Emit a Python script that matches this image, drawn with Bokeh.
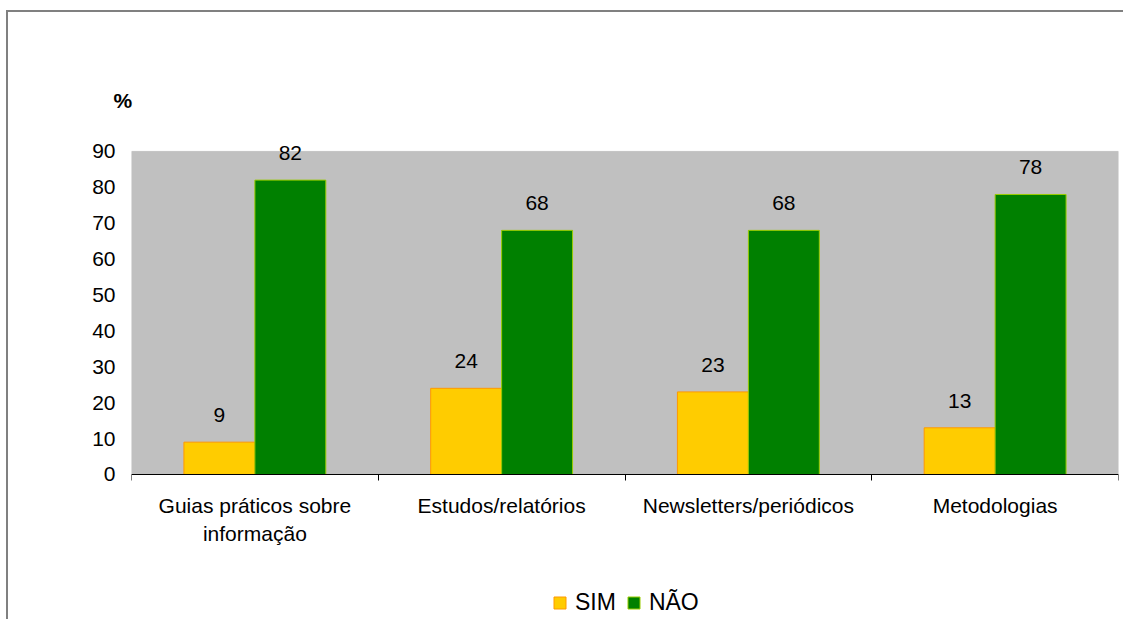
from bokeh.plotting import figure
from bokeh.models import (ColumnDataSource, FixedTicker, LabelSet, Legend, LegendItem,
                          BoxAnnotation)
from bokeh.core.properties import value
from bokeh.transform import dodge
from bokeh.embed import file_html
from bokeh.resources import INLINE

categories = ["Guias práticos sobre\ninformação", "Estudos/relatórios",
              "Newsletters/periódicos", "Metodologias"]
sim = [9, 24, 23, 13]
nao = [82, 68, 68, 78]
series = ["SIM", "NÃO"]
y_ticks = [0, 10, 20, 30, 40, 50, 60, 70, 80, 90]
unit_label = "%"

FONT = "Liberation Sans"
xs = [i + 0.5 for i in range(len(categories))]
src = ColumnDataSource(dict(
    x=xs, sim=sim, nao=nao,
    sim_lbl=[str(v) for v in sim], nao_lbl=[str(v) for v in nao],
))

# frame spans the whole lower part of the page so that the category labels and
# the legend (drawn inside the frame) are not clipped; y=0 sits at the axis line
p = figure(width=1123, height=619, output_backend="svg", toolbar_location=None,
           x_range=(0, len(categories)), y_range=(-40.4, 100),
           min_border_left=131, min_border_right=5, min_border_top=115, min_border_bottom=0,
           title=unit_label)
# outer chart border (top and left edges only are inside the window)
p.styles = {
    "background-image": "linear-gradient(#808080, #808080), linear-gradient(#808080, #808080)",
    "background-size": "2px 100%, 100% 2px",
    "background-position": "6px 10px, 6px 10px",
    "background-repeat": "no-repeat, no-repeat",
}
p.border_fill_color = None
p.background_fill_color = None
p.outline_line_color = None
p.grid.visible = False

p.title.text_font = FONT
p.title.text_font_size = "21px"
p.title.text_font_style = "bold"
p.title.text_color = "#000000"
p.title.align = "left"
p.title.offset = -18
p.title.standoff = 8

# gray plot area (0..max tick)
p.add_layout(BoxAnnotation(left=0, right=len(categories), bottom=0, top=y_ticks[-1],
                           fill_color="#C0C0C0", fill_alpha=1, line_color="#808080",
                           line_width=1, level="underlay"))

bw = 0.2875
r1 = p.vbar(x=dodge("x", -bw / 2, range=p.x_range), top="sim", width=bw, source=src,
            fill_color="#FFCC00", line_color="#FF9900", line_width=1)
r2 = p.vbar(x=dodge("x", bw / 2, range=p.x_range), top="nao", width=bw, source=src,
            fill_color="#008000", line_color="#99CC00", line_width=1)

for col, off in (("sim", -bw / 2), ("nao", bw / 2)):
    p.add_layout(LabelSet(x=dodge("x", off, range=p.x_range), y=col, text=col + "_lbl",
                          source=src, y_offset=27, text_align="center", text_baseline="middle",
                          text_font=value(FONT), text_font_size="21px", text_color="#000000"))

# x axis, fixed at y = 0
xa = p.xaxis[0]
xa.fixed_location = 0
xa.ticker = FixedTicker(ticks=xs, minor_ticks=list(range(len(categories) + 1)))
xa.major_label_overrides = {x: c for x, c in zip(xs, categories)}
xa.major_tick_line_color = None
xa.major_tick_out = 0
xa.major_tick_in = 0
xa.minor_tick_out = 6
xa.minor_tick_in = 0
xa.minor_tick_line_color = "#000000"
xa.axis_line_color = "#000000"
xa.major_label_text_font = FONT
xa.major_label_text_font_size = "21px"
xa.major_label_text_color = "#000000"
xa.major_label_standoff = 14

ya = p.yaxis[0]
ya.ticker = FixedTicker(ticks=y_ticks)
ya.axis_line_color = None
ya.major_tick_line_color = None
ya.major_tick_out = 0
ya.major_tick_in = 0
ya.minor_tick_line_color = None
ya.major_label_text_font = FONT
ya.major_label_text_font_size = "21px"
ya.major_label_text_color = "#000000"
ya.major_label_standoff = 16

legend = Legend(items=[LegendItem(label=series[0], renderers=[r1]),
                       LegendItem(label=series[1], renderers=[r2])],
                orientation="horizontal", location=(421, 3),
                glyph_width=15, glyph_height=15, label_text_font=FONT,
                label_text_font_size="23px", label_text_color="#000000",
                padding=0, margin=0, spacing=10,
                label_standoff=8, border_line_color=None, background_fill_alpha=0)
p.add_layout(legend, "center")

open("out.html", "w").write(file_html(p, INLINE))
